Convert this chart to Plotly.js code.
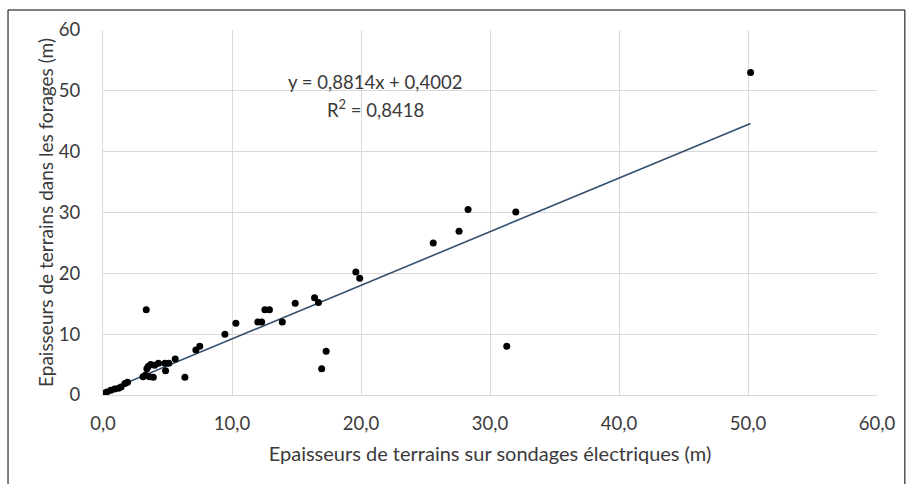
<!DOCTYPE html>
<html>
<head>
<meta charset="utf-8">
<script src="https://cdn.plot.ly/plotly-3.0.1.min.js"></script>
<style>html,body{margin:0;padding:0;background:#fff;}#chart{width:910px;height:484px;}</style>
</head>
<body>
<div id="chart"></div>
<script>
// Electrical soundings thickness (x) vs borehole thickness (y), metres
const sondagesX = [0.1, 0.3, 0.6, 0.9, 1.2, 1.4, 1.7, 1.9,
  3.1, 3.3, 3.4, 3.5, 3.7, 3.6, 3.9, 4.0, 4.3, 4.8, 4.85, 5.1, 5.6, 6.35, 7.2, 7.5,
  3.35, 9.45, 10.3, 12.0, 12.3, 12.55, 12.9, 13.9, 14.9, 16.4, 16.7, 17.3, 16.95,
  19.6, 19.9, 25.6, 27.6, 28.3, 32.0, 31.3, 50.2];
const foragesY = [0.3, 0.5, 0.8, 1.0, 1.1, 1.3, 1.9, 2.1,
  3.0, 3.3, 4.3, 4.7, 5.0, 3.0, 2.9, 4.9, 5.2, 5.2, 4.0, 5.2, 5.9, 2.9, 7.4, 8.0,
  14.0, 10.0, 11.8, 12.0, 12.0, 14.0, 14.0, 12.0, 15.1, 16.0, 15.2, 7.2, 4.3,
  20.2, 19.2, 25.0, 26.9, 30.5, 30.1, 8.0, 53.0];
const slope = 0.8814, intercept = 0.4002, r2 = 0.8418;
const trendX = [0, 50.2];
const trendY = trendX.map(v => slope * v + intercept);
const xTicks = [0, 10, 20, 30, 40, 50, 60];
const yTicks = [0, 10, 20, 30, 40, 50, 60];
const eqText = 'y = 0,8814x + 0,4002';
const r2Text = 'R<sup>2</sup> = 0,8418';
const xTitle = 'Epaisseurs de terrains sur sondages électriques (m)';
const yTitle = 'Epaisseurs de terrains dans les forages (m)';

const font = 'Lato, "Open Sans", sans-serif';
const txtColor = '#3a3a3a';
const data = [
  {x: trendX, y: trendY, type: 'scatter', mode: 'lines',
   line: {color: '#34506c', width: 1.6}, hoverinfo: 'skip', showlegend: false},
  {x: sondagesX, y: foragesY, type: 'scatter', mode: 'markers',
   marker: {color: '#000', size: 7}, showlegend: false}
];
const layout = {
  width: 910, height: 484,
  margin: {l: 103, r: 33, t: 30, b: 89},
  paper_bgcolor: '#fff', plot_bgcolor: '#fff',
  separators: ', ',
  font: {family: font, size: 18.5, color: txtColor},
  xaxis: {range: [0, 60], tickvals: xTicks, tickformat: '.1f', showgrid: true,
    gridcolor: '#d9d9d9', gridwidth: 1, zeroline: false, showline: true,
    linecolor: '#d9d9d9', ticks: '', ticklabelstandoff: 12,
    title: {text: xTitle, font: {family: font, size: 20, color: txtColor}, standoff: 13}},
  yaxis: {range: [0, 60], tickvals: yTicks, showgrid: true, gridcolor: '#d9d9d9',
    gridwidth: 1, zeroline: false, showline: true, linecolor: '#d9d9d9', ticks: '',
    ticklabelstandoff: 18,
    title: {text: yTitle, font: {family: font, size: 19, color: txtColor}, standoff: 0}},
  annotations: [
    {x: 21.1, y: 51.4, xref: 'x', yref: 'y', text: eqText, showarrow: false,
     font: {family: font, size: 18.5, color: txtColor}},
    {x: 21.1, y: 47.1, xref: 'x', yref: 'y', text: r2Text, showarrow: false,
     font: {family: font, size: 18.5, color: txtColor}}
  ],
  shapes: [
    {type: 'rect', xref: 'paper', yref: 'paper', x0: -0.1227, x1: 1.036, y0: -0.27, y1: 1.0548,
     line: {color: '#000', width: 1}, fillcolor: 'rgba(0,0,0,0)', layer: 'below'}
  ]
};
Plotly.newPlot('chart', data, layout, {displayModeBar: false, staticPlot: true});
</script>
</body>
</html>
